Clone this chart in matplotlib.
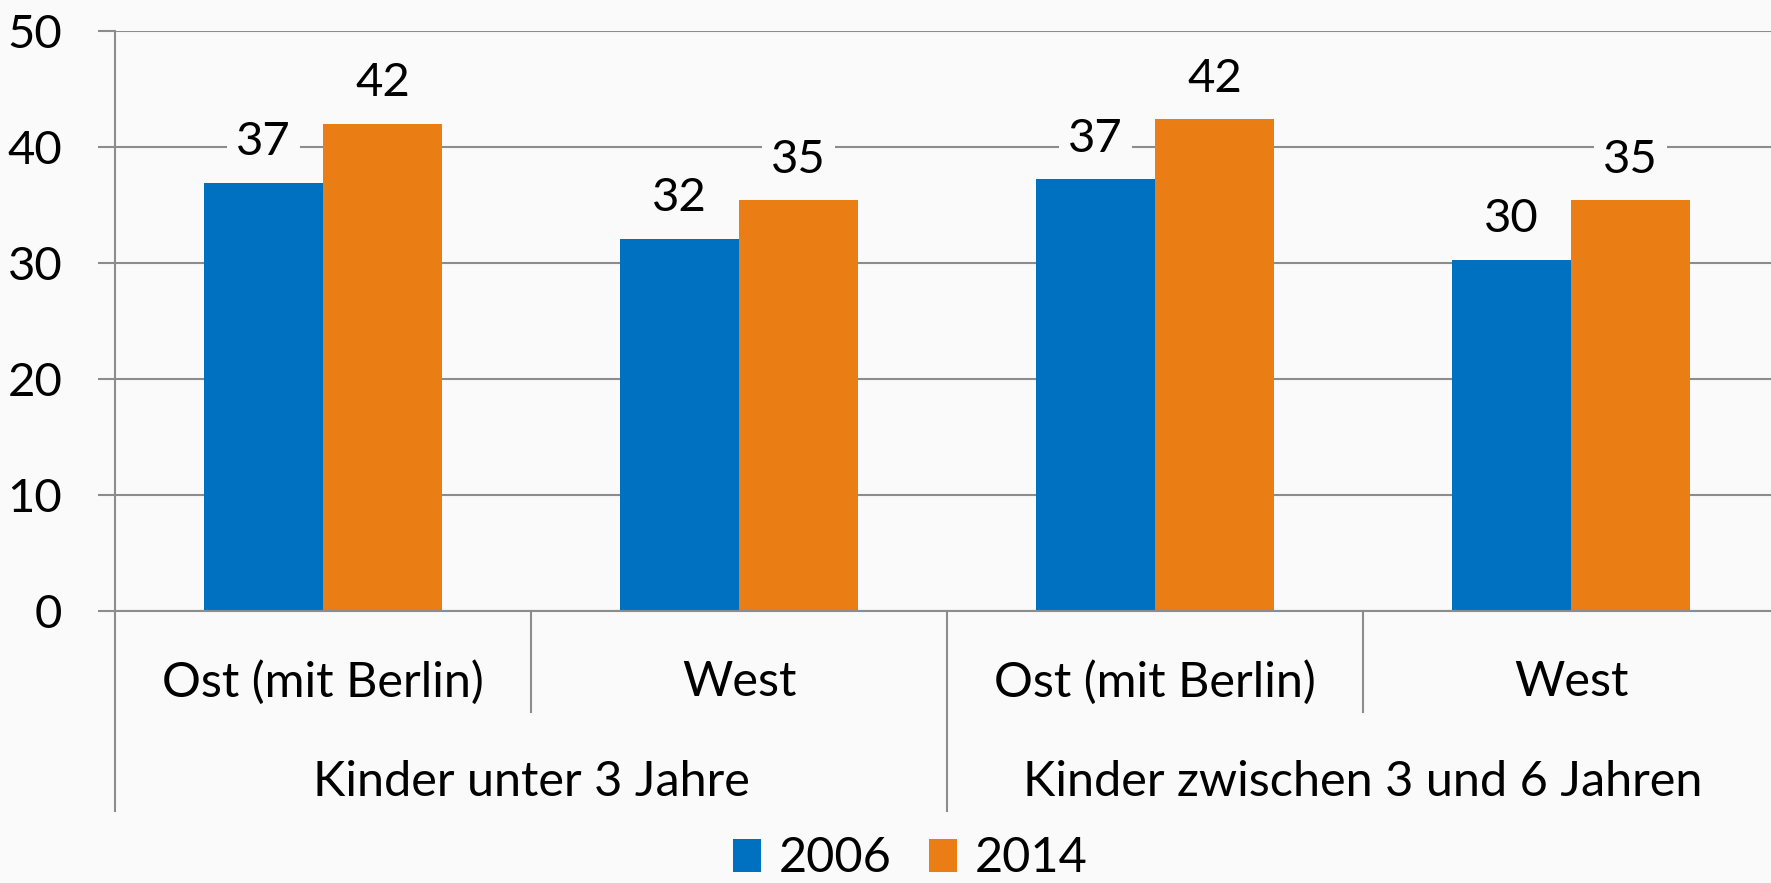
import numpy as np
import matplotlib
matplotlib.use("Agg")
import matplotlib.pyplot as plt

plt.rcParams['font.family'] = ['Lato', 'DejaVu Sans']

# data
regions = ["Ost (mit Berlin)", "West", "Ost (mit Berlin)", "West"]
groups = ["Kinder unter 3 Jahre", "Kinder zwischen 3 und 6 Jahren"]
years = ["2006", "2014"]
v2006 = [36.9, 32.1, 37.2, 30.3]
v2014 = [42.0, 35.4, 42.4, 35.4]
yticks = [0, 10, 20, 30, 40, 50]

bg = '#fafafa'
blue = '#0070c0'
orange = '#eb7d15'
grey = '#8c8c8c'
fs = 34
fs_lab = 35

fig = plt.figure(figsize=(17.71, 8.83), dpi=100, facecolor=bg)
W, H = 1771, 883
x0, x1, ytop, ybot = 115, 1779, 31, 611
ax = fig.add_axes([x0 / W, (H - ybot) / H, (x1 - x0) / W, (ybot - ytop) / H])
ax.set_facecolor(bg)

x = np.arange(len(regions))
bw = 0.286
ax.bar(x - bw / 2, v2006, bw, color=blue, label=years[0], zorder=2)
ax.bar(x + bw / 2, v2014, bw, color=orange, label=years[1], zorder=2)

for xi, v in zip(x - bw / 2, v2006):
    ax.text(xi, v + 3.5, f"{v:.0f}", ha='center', va='center', fontsize=fs, zorder=3,
            bbox=dict(boxstyle='square,pad=0.2', fc=bg, ec='none'))
for xi, v in zip(x + bw / 2, v2014):
    ax.text(xi, v + 3.5, f"{v:.0f}", ha='center', va='center', fontsize=fs, zorder=3,
            bbox=dict(boxstyle='square,pad=0.2', fc=bg, ec='none'))

ax.set_xlim(-0.5, 3.5)
ax.set_ylim(0, 50)
ax.set_yticks(yticks)
ax.set_yticklabels([str(t) for t in yticks], fontsize=fs)
ax.tick_params(axis='y', length=12, width=1.5, color=grey, pad=26)
ax.set_xticks([])
ax.grid(axis='y', color=grey, lw=1.5, zorder=0)
ax.set_axisbelow(True)
for s in ['top', 'right', 'bottom']:
    ax.spines[s].set_visible(False)
ax.spines['left'].set_color(grey)
ax.spines['left'].set_linewidth(1.5)

# category axis below the plot
tr = ax.get_xaxis_transform()
ax.plot([-0.5, 3.5], [0, 0], color=grey, lw=1.5, transform=tr, clip_on=False, zorder=4)
for sx in [0.5, 2.5]:
    ax.plot([sx, sx], [0, -0.174], color=grey, lw=1.5, transform=tr, clip_on=False)
for sx in [-0.5, 1.5, 3.5]:
    ax.plot([sx, sx], [0, -0.345], color=grey, lw=1.5, transform=tr, clip_on=False)
for xi, r in zip(x, regions):
    ax.text(xi, -0.123, r, ha='center', va='center', fontsize=fs_lab, transform=tr)
for gi, g in enumerate(groups):
    ax.text(0.5 + 2 * gi, -0.294, g, ha='center', va='center', fontsize=fs_lab, transform=tr)

fig.legend(loc='center', bbox_to_anchor=(0.514, 0.028), ncol=2, frameon=False,
           fontsize=fs_lab, handlelength=0.58, handleheight=0.66, handletextpad=0.35,
           columnspacing=0.78, borderpad=0)

fig.savefig('out.png', dpi=100, facecolor=bg)
